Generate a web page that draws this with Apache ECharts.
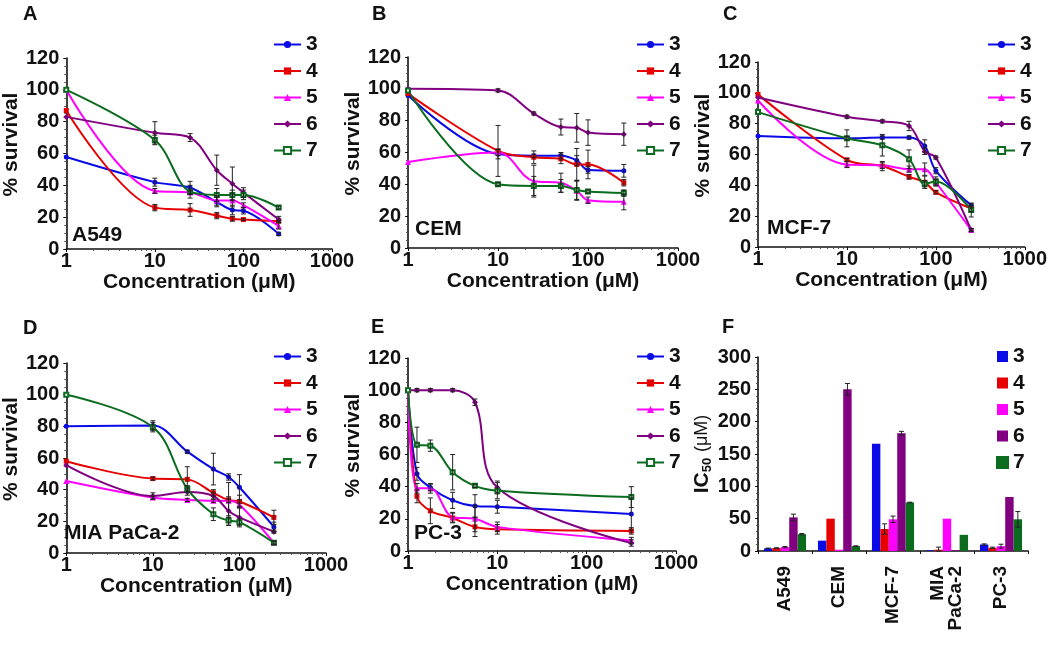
<!DOCTYPE html>
<html><head><meta charset="utf-8">
<script src="https://cdn.jsdelivr.net/npm/echarts@6/dist/echarts.min.js"></script>
<style>html,body{margin:0;padding:0;background:#fff}#c{width:1050px;height:645px}</style>
</head><body><div id="c"></div>
<script>
// ---------- data ----------
const compounds = ['3', '4', '5', '6', '7'];
const concStd = [1, 10, 25, 50, 75, 100, 250];
const concPC3 = [1, 1.26, 1.78, 3.16, 5.62, 10, 316];
const cellLines = ['A549', 'CEM', 'MCF-7', 'MIA\nPaCa-2', 'PC-3'];
const xTickLabels = ['1', '10', '100', '1000'];

// % survival, rows = compounds 3..7
const A549_surv = [
  [57.8, 42, 38.5, 29.5, 24.5, 24, 9.5],
  [87, 26, 24.5, 21, 19, 18.5, 17.5],
  [100, 36.5, 35.5, 30.5, 30.5, 27.5, 14.5],
  [83, 73, 70, 49.5, 41, 35.5, 18.5],
  [100, 68.5, 36, 34, 34, 34, 26]
];
const A549_err = [
  [0, 2.5, 4, 3, 3, 2, 1],
  [0, 2, 4, 2, 1.5, 0.5, 0.5],
  [0, 1.5, 1, 3, 4, 1.5, 2],
  [0, 7, 2.5, 9.5, 10.5, 3, 2],
  [0, 3, 4, 4, 3, 3, 1]
];
const CEM_surv = [
  [96, 59, 58, 58, 55, 49, 48.5],
  [97, 61, 57, 56, 52.5, 52.5, 41],
  [54, 60, 42, 41, 36, 30, 29],
  [100, 99, 84.5, 76, 75.5, 72.5, 71.5],
  [99, 40, 39, 39, 36.5, 35.5, 34.5]
];
const CEM_err = [
  [0, 3, 1, 2, 3, 2, 4],
  [0, 16, 4, 3, 10, 9, 2],
  [0, 2, 10, 6, 6, 2, 5],
  [0, 1, 1, 5, 9, 8, 7],
  [0, 1, 6, 4, 6, 1, 2]
];
const MCF7_surv = [
  [72, 70.5, 71, 71, 65.5, 49.5, 27],
  [99, 56.5, 52.5, 45.5, 42, 35.5, 25],
  [95, 53.5, 53, 50.5, 50.5, 42, 11],
  [97, 84.5, 81.5, 78.5, 62, 58, 11],
  [87.5, 70.5, 66, 57, 41, 42.5, 24]
];
const MCF7_err = [
  [0, 1, 1, 1, 4, 2, 1],
  [0, 1, 3, 1.5, 4, 1, 2],
  [0, 2, 2, 2, 4, 2, 1],
  [0, 1, 1, 3, 2, 1, 1],
  [0, 5.5, 7, 6, 2, 3, 4.5]
];
const MIA_surv = [
  [80, 80.5, 64, 53, 48, 41.5, 16.5],
  [58, 47, 46.5, 38, 33.5, 32.5, 22.5],
  [45.5, 35, 33.5, 33, 33, 30.5, 6.5],
  [55.5, 36, 38.5, 36, 26.5, 22.5, 13.5],
  [100, 79.5, 40.5, 24.5, 20.5, 19.5, 6.5]
];
const MIA_err = [
  [0, 3, 1, 10, 2, 8, 3],
  [0, 1, 8, 2, 11, 4, 4.5],
  [0, 1, 1, 1, 1, 1, 1],
  [0, 2, 2, 2, 9, 6, 1],
  [0, 3, 2, 4, 3, 2, 1]
];
const PC3_surv = [
  [100, 48, 39.5, 31.5, 28, 27.5, 23],
  [100, 34, 25, 20.5, 15, 13.5, 12.5],
  [100, 39, 39, 21, 20, 15, 6.5],
  [100, 100, 100, 100, 92.5, 39.5, 5],
  [100, 66, 65.5, 49, 40.5, 37.5, 33.5]
];
const PC3_err = [
  [0, 4, 2, 5, 7, 4, 10],
  [0, 4, 8, 3, 6, 3, 2],
  [0, 3, 3, 3, 8, 3, 2],
  [0, 1, 1, 1, 2, 4, 2],
  [0, 11, 3.5, 11, 1, 5, 6.5]
];
// IC50 (µM), rows = compounds 3..7, columns = cell lines
const IC50 = [
  [4, 16, 166, 1, 10],
  [4.5, 50, 34, 2, 5],
  [6, 2, 49, 50, 7.5],
  [52, 250, 182, 1, 83.5],
  [26, 7.5, 75, 25, 49]
];
const IC50_err = [
  [0.5, 0, 0, 0, 1],
  [0.5, 0, 8, 4, 1],
  [1, 0, 5, 0, 3],
  [5, 9, 3, 0, 0],
  [1, 0.5, 0.5, 0, 12]
];

// ---------- styling / layout ----------
const FONT = '"Liberation Sans", Arial, sans-serif';
const colors = ['#0a0ae6', '#e60000', '#ff00ff', '#800080', '#0b6b1e'];
const symbols = ['circle', 'rect', 'triangle', 'diamond', 'emptyRect'];
const symSizes = [5, 5, 6, 6, 4];

const panels = [
  {letter: 'A', name: 'A549', surv: A549_surv, err: A549_err, conc: concStd,
   grid: {left: 61, top: 58, width: 271, height: 191}, legend: {left: 273, top: 34},
   letterPos: [23, 4], namePos: [72, 225]},
  {letter: 'B', name: 'CEM', surv: CEM_surv, err: CEM_err, conc: concStd,
   grid: {left: 408, top: 57, width: 270, height: 191}, legend: {left: 636, top: 34},
   letterPos: [372, 4], namePos: [415, 219]},
  {letter: 'C', name: 'MCF-7', surv: MCF7_surv, err: MCF7_err, conc: concStd,
   grid: {left: 758, top: 62, width: 271, height: 185}, legend: {left: 987, top: 34},
   letterPos: [723, 4], namePos: [767, 218]},
  {letter: 'D', name: 'MIA PaCa-2', surv: MIA_surv, err: MIA_err, conc: concStd,
   grid: {left: 58, top: 363, width: 268, height: 190}, legend: {left: 273, top: 346},
   letterPos: [23, 318], namePos: [64, 523]},
  {letter: 'E', name: 'PC-3', surv: PC3_surv, err: PC3_err, conc: concPC3,
   grid: {left: 408, top: 358, width: 268, height: 193}, legend: {left: 636, top: 346},
   letterPos: [371, 317], namePos: [414, 523]}
];
const gridF = {left: 758, top: 357, width: 270, height: 194};

const grids = [], xAxes = [], yAxes = [], series = [], legends = [], titles = [];

function errRender(params, api) {
  const x = api.value(0), lo = api.value(1), hi = api.value(2);
  const p1 = api.coord([x, lo]), p2 = api.coord([x, hi]);
  const c = 2.5;
  const st = {stroke: '#222', lineWidth: 1};
  return {type: 'group', children: [
    {type: 'line', shape: {x1: p1[0], y1: p1[1], x2: p2[0], y2: p2[1]}, style: st},
    {type: 'line', shape: {x1: p1[0] - c, y1: p1[1], x2: p1[0] + c, y2: p1[1]}, style: st},
    {type: 'line', shape: {x1: p2[0] - c, y1: p2[1], x2: p2[0] + c, y2: p2[1]}, style: st}
  ]};
}

const axisLineStyle = {show: true, lineStyle: {color: '#111', width: 1.6}};
const tickLabel = {color: '#111', fontSize: 20, fontWeight: 'bold', fontFamily: FONT};

panels.forEach((p, pi) => {
  grids.push(p.grid);
  xAxes.push({
    type: 'log', logBase: 10, min: 1, max: 1000, gridIndex: pi,
    axisLine: axisLineStyle,
    axisTick: {show: true, length: 3, lineStyle: {color: '#111'}},
    minorTick: {show: true, splitNumber: 9, length: 2, lineStyle: {color: '#555'}},
    splitLine: {show: false},
    axisLabel: Object.assign({margin: 2, formatter: v => xTickLabels[Math.round(Math.log10(v))]}, tickLabel),
    name: 'Concentration (\u03bcM)', nameLocation: 'middle', nameGap: 23,
    nameTextStyle: {color: '#111', fontSize: 21, fontWeight: 'bold', fontFamily: FONT}
  });
  yAxes.push({
    type: 'value', min: 0, max: 120, interval: 20, gridIndex: pi,
    axisLine: axisLineStyle,
    axisTick: {show: true, length: 3, lineStyle: {color: '#111'}},
    minorTick: {show: true, splitNumber: 4, length: 2, lineStyle: {color: '#555'}},
    splitLine: {show: false},
    axisLabel: Object.assign({margin: 7}, tickLabel),
    name: '% survival', nameLocation: 'middle', nameGap: 39,
    nameTextStyle: {color: '#111', fontSize: 21, fontWeight: 'bold', fontFamily: FONT, padding: [0, 0, 0, 18]}
  });
  compounds.forEach((cmp, ci) => {
    series.push({
      type: 'line', name: cmp, xAxisIndex: pi, yAxisIndex: pi,
      data: p.conc.map((c, j) => [c, p.surv[ci][j]]),
      smooth: 0.35, symbol: symbols[ci], symbolSize: symSizes[ci],
      color: colors[ci],
      lineStyle: {width: 2, color: colors[ci]},
      itemStyle: {color: colors[ci], borderColor: colors[ci], borderWidth: ci === 4 ? 1 : 0},
      z: 3
    });
  });
  const errData = [];
  compounds.forEach((cmp, ci) => {
    p.conc.forEach((c, j) => {
      const e = p.err[ci][j];
      if (e > 0) errData.push([c, p.surv[ci][j] - e, p.surv[ci][j] + e]);
    });
  });
  series.push({
    type: 'custom', name: 'err' + pi, xAxisIndex: pi, yAxisIndex: pi,
    renderItem: errRender, data: errData, z: 4, silent: true,
    encode: {x: 0, y: [1, 2]}
  });
  legends.push({
    left: p.legend.left, top: p.legend.top, orient: 'vertical', padding: 0,
    itemWidth: 27, itemHeight: 9, itemGap: 5.5, selectedMode: false,
    textStyle: {color: '#111', fontSize: 21, fontWeight: 'bold', fontFamily: FONT},
    data: compounds.slice()
  });
  titles.push({text: p.letter, left: p.letterPos[0], top: p.letterPos[1], padding: 0,
    textStyle: {color: '#111', fontSize: 20, fontWeight: 'bold', fontFamily: FONT}});
  titles.push({text: p.name, left: p.namePos[0], top: p.namePos[1], padding: 0,
    textStyle: {color: '#111', fontSize: 21, fontWeight: 'bold', fontFamily: FONT}});
});

// ---------- panel F ----------
const fi = panels.length;
grids.push(gridF);
xAxes.push({
  type: 'category', data: cellLines, gridIndex: fi,
  axisLine: axisLineStyle,
  axisTick: {show: true, length: 3, lineStyle: {color: '#111'}},
  axisLabel: Object.assign({}, tickLabel, {rotate: 90, interval: 0, margin: 15, lineHeight: 18, fontSize: 19})
});
yAxes.push({
  type: 'value', min: 0, max: 300, interval: 50, gridIndex: fi,
  axisLine: axisLineStyle,
  axisTick: {show: true, length: 3, lineStyle: {color: '#111'}},
  minorTick: {show: true, splitNumber: 5, length: 2, lineStyle: {color: '#555'}},
  splitLine: {show: false},
  axisLabel: Object.assign({margin: 7}, tickLabel),
  name: 'IC{s|50} {u|(\u03bcM)}', nameLocation: 'middle', nameGap: 44,
  nameTextStyle: {color: '#111', fontSize: 21, fontWeight: 'bold', fontFamily: FONT,
    rich: {s: {fontSize: 13, fontWeight: 'bold', fontFamily: FONT, color: '#111', verticalAlign: 'bottom', padding: [10, 0, 0, 0]},
           u: {fontSize: 18, fontWeight: 'normal', fontFamily: FONT, color: '#111'}}}
});
compounds.forEach((cmp, ci) => {
  series.push({
    type: 'bar', name: cmp, xAxisIndex: fi, yAxisIndex: fi,
    data: IC50[ci], barGap: '0%', barCategoryGap: '22%',
    itemStyle: {color: colors[ci]}, z: 2
  });
});
const barErr = [];
compounds.forEach((cmp, ci) => {
  IC50[ci].forEach((v, k) => {
    const e = IC50_err[ci][k];
    if (e > 0) barErr.push([k, v - e, v + e, ci]);
  });
});
series.push({
  type: 'custom', name: 'errF', xAxisIndex: fi, yAxisIndex: fi, silent: true, z: 4,
  data: barErr, encode: {x: 0, y: [1, 2]},
  renderItem(params, api) {
    const k = api.value(0), lo = Math.max(0, api.value(1)), hi = api.value(2), si = api.value(3);
    const catW = api.size([1, 0])[0];
    const bw = catW * (1 - 0.22) / 5;
    const p1 = api.coord([k, lo]), p2 = api.coord([k, hi]);
    const x = p1[0] + (si - 2) * bw;
    const c = 2.5, st = {stroke: '#222', lineWidth: 1};
    return {type: 'group', children: [
      {type: 'line', shape: {x1: x, y1: p1[1], x2: x, y2: p2[1]}, style: st},
      {type: 'line', shape: {x1: x - c, y1: p1[1], x2: x + c, y2: p1[1]}, style: st},
      {type: 'line', shape: {x1: x - c, y1: p2[1], x2: x + c, y2: p2[1]}, style: st}
    ]};
  }
});
legends.push({
  left: 996, top: 346, orient: 'vertical', padding: 0, itemWidth: 11, itemHeight: 11, itemGap: 5.5,
  selectedMode: false,
  textStyle: {color: '#111', fontSize: 21, fontWeight: 'bold', fontFamily: FONT},
  data: compounds.map(c => ({name: c, icon: 'rect'}))
});
titles.push({text: 'F', left: 722, top: 317, padding: 0,
  textStyle: {color: '#111', fontSize: 20, fontWeight: 'bold', fontFamily: FONT}});

const chart = echarts.init(document.getElementById('c'), null, {renderer: 'canvas'});
chart.setOption({
  backgroundColor: '#fff',
  animation: false,
  title: titles,
  grid: grids,
  xAxis: xAxes,
  yAxis: yAxes,
  legend: legends,
  series: series
});
</script>
</body></html>
